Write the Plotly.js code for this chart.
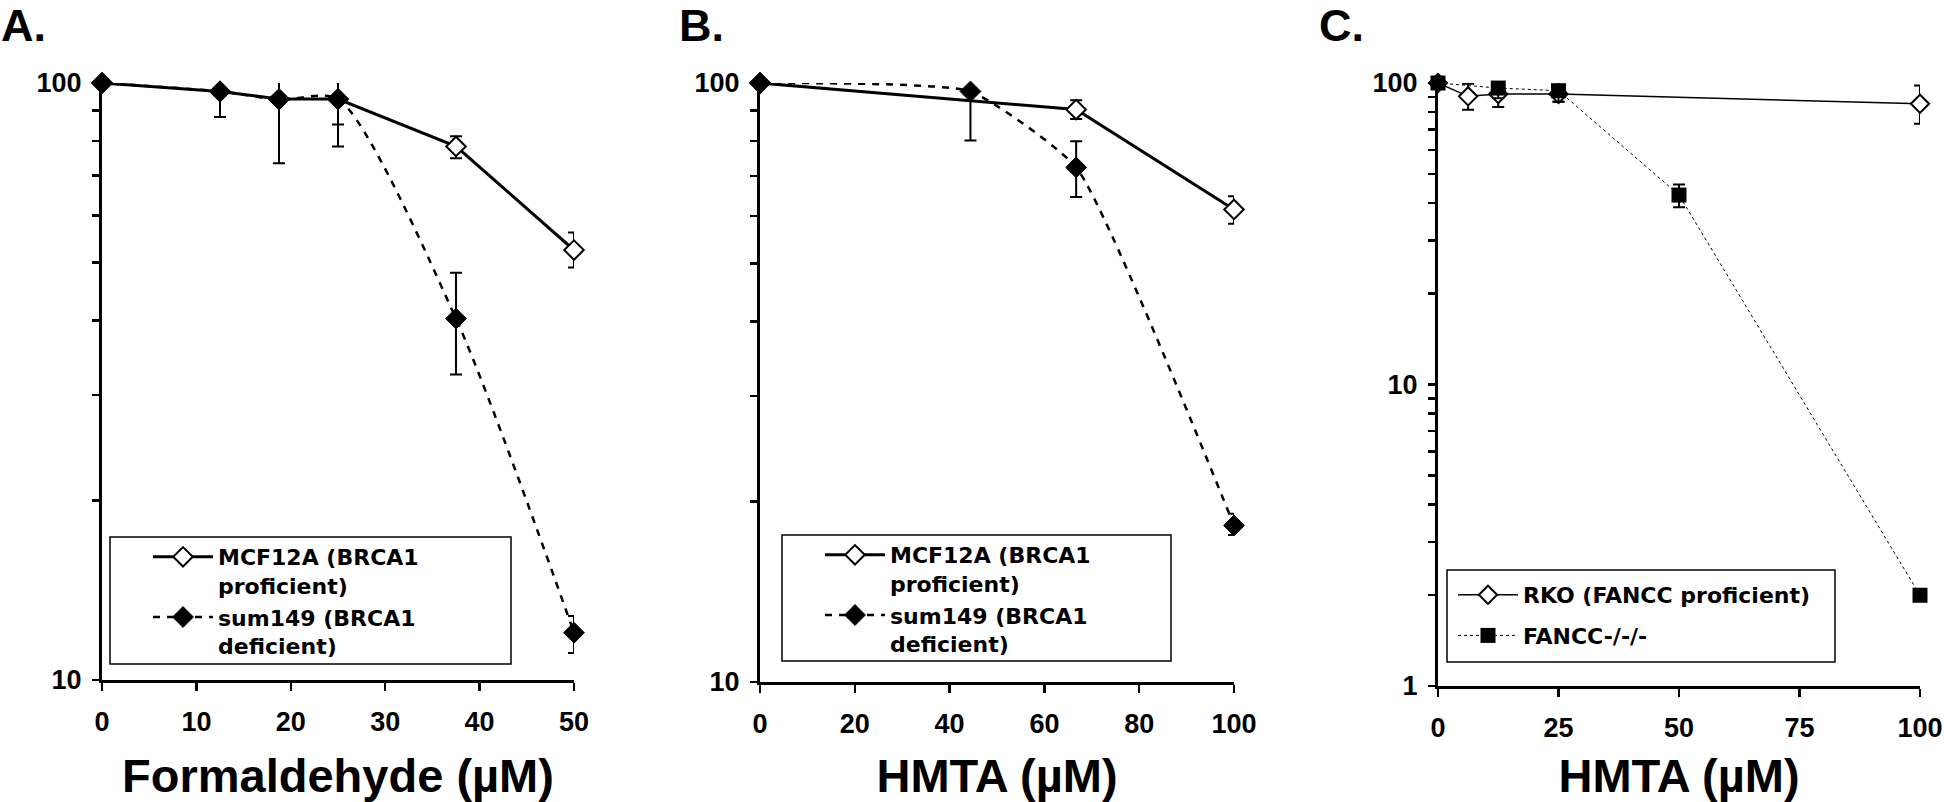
<!DOCTYPE html>
<html>
<head>
<meta charset="utf-8">
<script src="https://cdn.plot.ly/plotly-3.0.1.min.js"></script>
<style>html,body{margin:0;padding:0;background:#fff;}#chart{width:1944px;height:802px;}</style>
</head>
<body>
<div id="chart"></div>
<script>
// ---- Panel A: Formaldehyde ----
var formX_mcf = [0, 12.5, 18.75, 25, 37.5, 50];
var formY_mcf = [100, 96.8, 94, 94, 78.3, 52.5];
var formHi_mcf = [100, 96.8, 94, 102, 81.4, 56.2];
var formLo_mcf = [100, 96.8, 94, 85.2, 74.8, 49.1];
var formX_sum = [0, 12.5, 18.75, 25, 37.5, 50];
var formY_sum = [100, 96.8, 93.8, 94, 40.3, 12];
var formHi_sum = [100, 97.5, 102.9, 101.5, 48.1, 12.8];
var formLo_sum = [100, 87.7, 73.4, 78.3, 32.5, 11.1];

// ---- Panel B: HMTA ----
var hmtaX_mcf = [0, 66.7, 100];
var hmtaY_mcf = [100, 90.3, 61.5];
var hmtaHi_mcf = [100, 93.6, 64.7];
var hmtaLo_mcf = [100, 87.1, 58.2];
var hmtaX_sum = [0, 44.4, 66.7, 100];
var hmtaY_sum = [100, 96.8, 72.3, 18.25];
var hmtaHi_sum = [100, 102.8, 79.9, 19.1];
var hmtaLo_sum = [100, 80.2, 64.5, 17.6];

// ---- Panel C: HMTA, RKO vs FANCC-/-/- ----
var rkoX = [0, 6.25, 12.5, 25, 100];
var rkoY = [100, 90.3, 91.9, 92, 85.3];
var rkoHi = [100, 99.5, 97, 98, 98.2];
var rkoLo = [100, 81.5, 83.2, 86.7, 73.2];
var fanccX = [0, 12.5, 25, 50, 100];
var fanccY = [100, 96.2, 94.3, 42.5, 2.0];
var fanccHi = [100, 104.7, 102.6, 46.1, 2.0];
var fanccLo = [100, 89, 86.7, 38.7, 2.0];

// tick labels
var yTicksAB = [10, 20, 30, 40, 50, 60, 70, 80, 90, 100];
var yTextAB = ['10', '', '', '', '', '', '', '', '', '100'];
var yTicksC = [1, 2, 3, 4, 5, 6, 7, 8, 9, 10, 20, 30, 40, 50, 60, 70, 80, 90, 100];
var yTextC = ['1', '', '', '', '', '', '', '', '', '10', '', '', '', '', '', '', '', '', '100'];

var nameMCF = 'MCF12A (BRCA1<br>proficient)';
var nameSUM = 'sum149 (BRCA1<br>deficient)';
var nameRKO = 'RKO (FANCC proficient)';
var nameFAN = 'FANCC-/-/-';

function plus(y, hi) { return y.map(function (v, i) { return hi[i] - v; }); }
function minus(y, lo) { return y.map(function (v, i) { return v - lo[i]; }); }
function err(y, hi, lo, w) {
  return {type: 'data', symmetric: false, array: plus(y, hi), arrayminus: minus(y, lo),
          color: '#000', thickness: w, width: 6};
}

var FONT = 'Liberation Sans, Arial, Helvetica, sans-serif';
var LFONT = 'DejaVu Sans, Liberation Sans, Arial, sans-serif';
var W = 1944, H = 802;
function px(x) { return x / W; }
function py(y) { return 1 - y / H; }

var openDia = {symbol: 'diamond', size: 15, color: '#fff', line: {color: '#000', width: 2}};
var fillDia = {symbol: 'diamond', size: 16, color: '#000', line: {color: '#000', width: 1}};

var traces = [
  {x: formX_mcf, y: formY_mcf, name: nameMCF, xaxis: 'x', yaxis: 'y', mode: 'lines+markers',
   line: {color: '#000', width: 3}, marker: openDia, error_y: err(formY_mcf, formHi_mcf, formLo_mcf, 2),
   cliponaxis: false, legend: 'legend'},
  {x: formX_sum, y: formY_sum, name: nameSUM, xaxis: 'x', yaxis: 'y', mode: 'lines+markers',
   line: {color: '#000', width: 2.5, dash: '7px,7px', shape: 'spline', smoothing: 0.7}, marker: fillDia,
   error_y: err(formY_sum, formHi_sum, formLo_sum, 2), cliponaxis: false, legend: 'legend'},

  {x: hmtaX_mcf, y: hmtaY_mcf, name: nameMCF, xaxis: 'x2', yaxis: 'y2', mode: 'lines+markers',
   line: {color: '#000', width: 3}, marker: openDia, error_y: err(hmtaY_mcf, hmtaHi_mcf, hmtaLo_mcf, 2),
   cliponaxis: false, legend: 'legend2'},
  {x: hmtaX_sum, y: hmtaY_sum, name: nameSUM, xaxis: 'x2', yaxis: 'y2', mode: 'lines+markers',
   line: {color: '#000', width: 2.5, dash: '7px,7px', shape: 'spline', smoothing: 0.45}, marker: fillDia,
   error_y: err(hmtaY_sum, hmtaHi_sum, hmtaLo_sum, 2), cliponaxis: false, legend: 'legend2'},

  {x: rkoX, y: rkoY, name: nameRKO, xaxis: 'x3', yaxis: 'y3', mode: 'lines+markers',
   line: {color: '#000', width: 1.5}, marker: {symbol: 'diamond', size: 14, color: '#fff', line: {color: '#000', width: 2}},
   error_y: err(rkoY, rkoHi, rkoLo, 2), cliponaxis: false, legend: 'legend3', legendgroup: 'c1'},
  {x: fanccX, y: fanccY, name: nameFAN, xaxis: 'x3', yaxis: 'y3', mode: 'lines+markers',
   line: {color: '#000', width: 1, dash: '3px,3px'}, marker: {symbol: 'square', size: 15, color: '#000'},
   error_y: err(fanccY, fanccHi, fanccLo, 2), cliponaxis: false, legend: 'legend3', legendgroup: 'c2'}
];

function xax(dom, range, dtick, title) {
  return {domain: dom, range: range, tick0: 0, dtick: dtick, showgrid: false, zeroline: false,
          showline: true, linecolor: '#000', linewidth: 3, ticks: 'outside', ticklen: 8, tickwidth: 2.5,
          tickcolor: '#000', ticklabelstandoff: 8,
          tickfont: {family: FONT, size: 27, color: '#000', weight: 'bold'},
          title: {text: title, font: {family: FONT, size: 47, color: '#000', weight: 'bold'}, standoff: 23},
          fixedrange: true};
}
function yax(dom, range, tv, tt, anchor) {
  return {domain: dom, type: 'log', range: range, tickvals: tv, ticktext: tt, showgrid: false, zeroline: false,
          showline: true, linecolor: '#000', linewidth: 3, ticks: 'outside', ticklen: 7, tickwidth: 2.5,
          tickcolor: '#000', ticklabelstandoff: 5, anchor: anchor,
          tickfont: {family: FONT, size: 27, color: '#000', weight: 'bold'}, fixedrange: true};
}

function leg(x, y, gap, order) {
  return {x: px(x), y: py(y), xanchor: 'left', yanchor: 'top', bgcolor: 'rgba(0,0,0,0)', borderwidth: 0,
          font: {family: LFONT, size: 22, color: '#000', weight: 'bold'}, valign: 'top',
          tracegroupgap: gap, itemwidth: 60, traceorder: order};
}

function panelLabel(t, x) {
  return {text: t, x: px(x), y: py(25.5), xref: 'paper', yref: 'paper', xanchor: 'left', yanchor: 'middle',
          showarrow: false, borderpad: 0, font: {family: FONT, size: 45, color: '#000', weight: 'bold'}};
}

var layout = {
  width: W, height: H, autosize: false, margin: {l: 0, r: 0, t: 0, b: 0},
  paper_bgcolor: '#fff', plot_bgcolor: 'rgba(0,0,0,0)', showlegend: true,
  xaxis: xax([px(102), px(574)], [0, 50], 10, 'Formaldehyde (µM)'),
  yaxis: yax([py(680), py(83)], [1, 2], yTicksAB, yTextAB, 'x'),
  xaxis2: Object.assign(xax([px(760), px(1234)], [0, 100], 20, 'HMTA (µM)'), {anchor: 'y2'}),
  yaxis2: yax([py(682), py(83)], [1, 2], yTicksAB, yTextAB, 'x2'),
  xaxis3: Object.assign(xax([px(1438), px(1920)], [0, 100], 25, 'HMTA (µM)'), {anchor: 'y3'}),
  yaxis3: yax([py(686), py(83)], [0, 2], yTicksC, yTextC, 'x3'),
  legend: leg(148, 536, 0, 'normal'),
  legend2: leg(820, 534, 0, 'normal'),
  legend3: leg(1453, 574, 9, 'grouped'),
  shapes: [
    {type: 'rect', xref: 'paper', yref: 'paper', x0: px(110), x1: px(511), y0: py(537), y1: py(664), line: {color: '#000', width: 1.5}, layer: 'above'},
    {type: 'rect', xref: 'paper', yref: 'paper', x0: px(782), x1: px(1171), y0: py(535), y1: py(661), line: {color: '#000', width: 1.5}, layer: 'above'},
    {type: 'rect', xref: 'paper', yref: 'paper', x0: px(1447), x1: px(1835), y0: py(570), y1: py(662), line: {color: '#000', width: 1.5}, layer: 'above'}
  ],
  annotations: [panelLabel('A.', 0), panelLabel('B.', 678), panelLabel('C.', 1318)]
};

Plotly.newPlot('chart', traces, layout, {staticPlot: true, displayModeBar: false});
</script>
</body>
</html>
